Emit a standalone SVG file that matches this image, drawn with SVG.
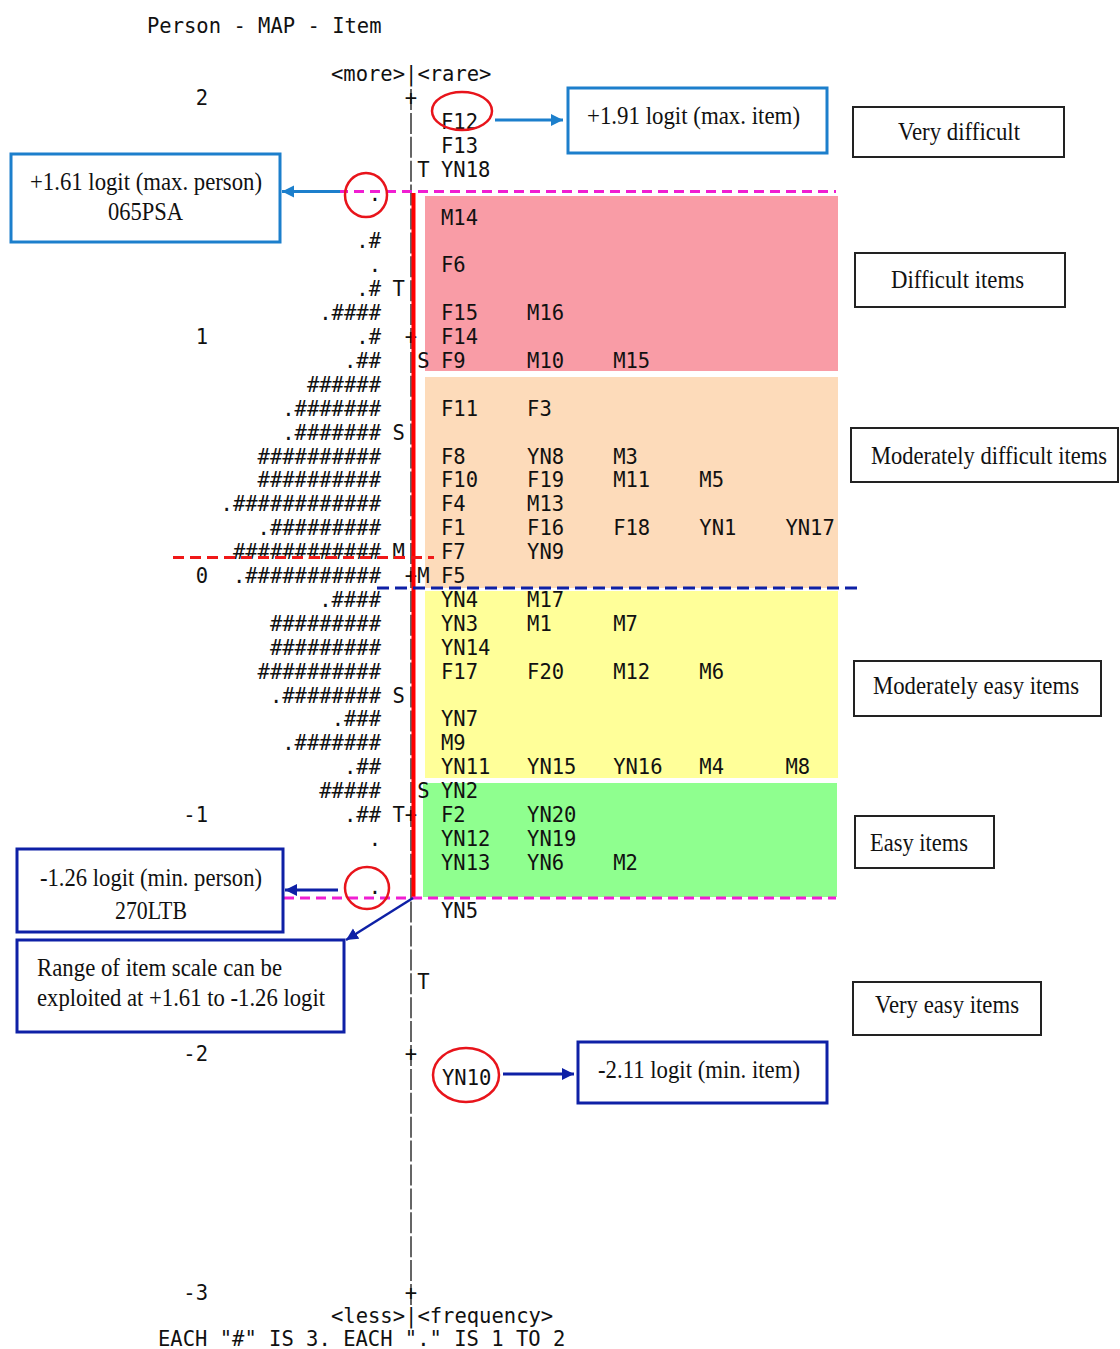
<svg xmlns="http://www.w3.org/2000/svg" width="1120" height="1349" viewBox="0 0 1120 1349">
<style>
.m{font-family:"DejaVu Sans Mono","Liberation Mono",monospace;font-size:20.5px;fill:#111}
.c{text-anchor:middle}
.e{text-anchor:end}
.s{font-family:"Liberation Serif","Times New Roman",serif;font-size:26px;fill:#111}
.bb{fill:#fff;stroke:#1C7FCC;stroke-width:3}
.db{fill:#fff;stroke:#0E20A6;stroke-width:3}
.kb{fill:#fff;stroke:#222;stroke-width:2}
.circ{fill:none;stroke:#E8141B;stroke-width:2.5}
</style>
<defs>
<marker id="ab" markerUnits="userSpaceOnUse" markerWidth="14" markerHeight="14" refX="12" refY="6" orient="auto"><path d="M0,0 L12,6 L0,12 z" fill="#1C7FCC"/></marker>
<marker id="ad" markerUnits="userSpaceOnUse" markerWidth="14" markerHeight="14" refX="12" refY="6" orient="auto"><path d="M0,0 L12,6 L0,12 z" fill="#0E20A6"/></marker>
</defs>
<rect width="1120" height="1349" fill="#fff"/>

<g id="bands">
<rect x="425" y="196" width="413" height="175" fill="#F99CA6"/>
<rect x="425" y="377" width="413" height="211" fill="#FDDBBA"/>
<rect x="425" y="591" width="413" height="187" fill="#FFFF99"/>
<rect x="423" y="783" width="414" height="114" fill="#8FFF8F"/>
</g>

<g id="axis">
<line x1="411" y1="89" x2="411" y2="1305" stroke="#333" stroke-width="1.5" stroke-dasharray="21 2.9"/>
</g>

<g id="headers" class="m">
<text x="147" y="33.3">Person - MAP - Item</text>
<text x="331" y="81.1">&lt;more&gt;|&lt;rare&gt;</text>
<text x="331" y="1322.5">&lt;less&gt;|&lt;frequency&gt;</text>
<text x="158" y="1346">EACH "#" IS 3. EACH "." IS 1 TO 2</text>
</g>

<g id="scale" class="m e">
<text x="208" y="105">2</text>
<text x="208" y="344">1</text>
<text x="208" y="583">0</text>
<text x="208" y="822">-1</text>
<text x="208" y="1061">-2</text>
<text x="208" y="1300">-3</text>
</g>

<g id="persons" class="m e">
<text x="381" y="200.6">.</text>
<text x="381" y="248.4">.#</text>
<text x="381" y="272.3">.</text>
<text x="381" y="296.2">.#</text>
<text x="381" y="320.1">.####</text>
<text x="381" y="344">.#</text>
<text x="381" y="367.9">.##</text>
<text x="381" y="391.8">######</text>
<text x="381" y="415.7">.#######</text>
<text x="381" y="439.6">.#######</text>
<text x="381" y="463.5">##########</text>
<text x="381" y="487.4">##########</text>
<text x="381" y="511.3">.############</text>
<text x="381" y="535.2">.#########</text>
<text x="381" y="559.1">############</text>
<text x="381" y="583">.###########</text>
<text x="381" y="606.9">.####</text>
<text x="381" y="630.8">#########</text>
<text x="381" y="654.7">#########</text>
<text x="381" y="678.6">##########</text>
<text x="381" y="702.5">.########</text>
<text x="381" y="726.4">.###</text>
<text x="381" y="750.3">.#######</text>
<text x="381" y="774.2">.##</text>
<text x="381" y="798.1">#####</text>
<text x="381" y="822">.##</text>
<text x="381" y="845.9">.</text>
<text x="381" y="893.7">.</text>
</g>

<g id="markers" class="m c">
<text x="411" y="105">+</text>
<text x="423.3" y="176.7">T</text>
<text x="398.7" y="296.2">T</text>
<text x="411" y="344">+</text>
<text x="423.3" y="367.9">S</text>
<text x="398.7" y="439.6">S</text>
<text x="398.7" y="559.1">M</text>
<text x="411" y="583">+</text>
<text x="423.3" y="583">M</text>
<text x="398.7" y="702.5">S</text>
<text x="423.3" y="798.1">S</text>
<text x="398.7" y="822">T</text>
<text x="411" y="822">+</text>
<text x="423.3" y="989.3">T</text>
<text x="411" y="1061">+</text>
<text x="411" y="1300">+</text>
</g>

<g id="items" class="m">
<text y="128.9"><tspan x="441">F12</tspan></text>
<text y="152.8"><tspan x="441">F13</tspan></text>
<text y="176.7"><tspan x="441">YN18</tspan></text>
<text y="224.5"><tspan x="441">M14</tspan></text>
<text y="272.3"><tspan x="441">F6</tspan></text>
<text y="320.1"><tspan x="441">F15</tspan><tspan x="527.1">M16</tspan></text>
<text y="344"><tspan x="441">F14</tspan></text>
<text y="367.9"><tspan x="441">F9</tspan><tspan x="527.1">M10</tspan><tspan x="613.2">M15</tspan></text>
<text y="415.7"><tspan x="441">F11</tspan><tspan x="527.1">F3</tspan></text>
<text y="463.5"><tspan x="441">F8</tspan><tspan x="527.1">YN8</tspan><tspan x="613.2">M3</tspan></text>
<text y="487.4"><tspan x="441">F10</tspan><tspan x="527.1">F19</tspan><tspan x="613.2">M11</tspan><tspan x="699.3">M5</tspan></text>
<text y="511.3"><tspan x="441">F4</tspan><tspan x="527.1">M13</tspan></text>
<text y="535.2"><tspan x="441">F1</tspan><tspan x="527.1">F16</tspan><tspan x="613.2">F18</tspan><tspan x="699.3">YN1</tspan><tspan x="785.4">YN17</tspan></text>
<text y="559.1"><tspan x="441">F7</tspan><tspan x="527.1">YN9</tspan></text>
<text y="583"><tspan x="441">F5</tspan></text>
<text y="606.9"><tspan x="441">YN4</tspan><tspan x="527.1">M17</tspan></text>
<text y="630.8"><tspan x="441">YN3</tspan><tspan x="527.1">M1</tspan><tspan x="613.2">M7</tspan></text>
<text y="654.7"><tspan x="441">YN14</tspan></text>
<text y="678.6"><tspan x="441">F17</tspan><tspan x="527.1">F20</tspan><tspan x="613.2">M12</tspan><tspan x="699.3">M6</tspan></text>
<text y="726.4"><tspan x="441">YN7</tspan></text>
<text y="750.3"><tspan x="441">M9</tspan></text>
<text y="774.2"><tspan x="441">YN11</tspan><tspan x="527.1">YN15</tspan><tspan x="613.2">YN16</tspan><tspan x="699.3">M4</tspan><tspan x="785.4">M8</tspan></text>
<text y="798.1"><tspan x="441">YN2</tspan></text>
<text y="822"><tspan x="441">F2</tspan><tspan x="527.1">YN20</tspan></text>
<text y="845.9"><tspan x="441">YN12</tspan><tspan x="527.1">YN19</tspan></text>
<text y="869.8"><tspan x="441">YN13</tspan><tspan x="527.1">YN6</tspan><tspan x="613.2">M2</tspan></text>
<text y="917.6"><tspan x="441">YN5</tspan></text>
<text y="1084.9"><tspan x="442">YN10</tspan></text>
</g>

<g id="guides" fill="none" stroke-width="3">
<line x1="413.5" y1="193" x2="413.5" y2="898" stroke="#FF0000" stroke-width="4"/>
<line x1="338" y1="191.5" x2="836" y2="191.5" stroke="#F01ED2" stroke-dasharray="10 6"/>
<line x1="284" y1="898" x2="836" y2="898" stroke="#F01ED2" stroke-dasharray="10 6"/>
<line x1="173" y1="557.5" x2="434" y2="557.5" stroke="#F01818" stroke-dasharray="11 6"/>
<line x1="377" y1="588" x2="861" y2="588" stroke="#0E20A6" stroke-dasharray="12 6"/>
</g>

<g id="highlights">
<ellipse class="circ" cx="462" cy="111" rx="30" ry="19"/>
<ellipse class="circ" cx="366" cy="195" rx="21" ry="22"/>
<ellipse class="circ" cx="367" cy="888" rx="22" ry="21"/>
<ellipse class="circ" cx="466" cy="1075" rx="33" ry="27"/>
</g>

<g id="connectors" fill="none" stroke-width="3">
<line x1="495" y1="120" x2="563" y2="120" stroke="#1C7FCC" marker-end="url(#ab)"/>
<line x1="340" y1="191.5" x2="282" y2="191.5" stroke="#1C7FCC" marker-end="url(#ab)"/>
<line x1="338" y1="890" x2="285" y2="890" stroke="#0E20A6" marker-end="url(#ad)"/>
<line x1="413" y1="898" x2="346" y2="940" stroke="#0E20A6" stroke-width="2.5" marker-end="url(#ad)"/>
<line x1="503" y1="1074" x2="574" y2="1074" stroke="#0E20A6" marker-end="url(#ad)"/>
</g>

<g id="max-item">
<rect class="bb" x="568" y="88" width="259" height="65"/>
<text class="s" x="587" y="124" textLength="213" lengthAdjust="spacingAndGlyphs">+1.91 logit (max. item)</text>
</g>
<g id="very-difficult">
<rect class="kb" x="853" y="107" width="211" height="50"/>
<text class="s" x="898" y="140" textLength="122" lengthAdjust="spacingAndGlyphs">Very difficult</text>
</g>
<g id="max-person">
<rect class="bb" x="11" y="154" width="269" height="88"/>
<text class="s" x="30" y="190" textLength="232" lengthAdjust="spacingAndGlyphs">+1.61 logit (max. person)</text>
<text class="s" x="108" y="220" textLength="75" lengthAdjust="spacingAndGlyphs">065PSA</text>
</g>
<g id="difficult">
<rect class="kb" x="855" y="253" width="210" height="54"/>
<text class="s" x="891" y="288" textLength="133" lengthAdjust="spacingAndGlyphs">Difficult items</text>
</g>
<g id="moderately-difficult">
<rect class="kb" x="851" y="428" width="267" height="54"/>
<text class="s" x="871" y="464" textLength="236" lengthAdjust="spacingAndGlyphs">Moderately difficult items</text>
</g>
<g id="moderately-easy">
<rect class="kb" x="854" y="661" width="247" height="55"/>
<text class="s" x="873" y="694" textLength="206" lengthAdjust="spacingAndGlyphs">Moderately easy items</text>
</g>
<g id="easy">
<rect class="kb" x="855" y="816" width="139" height="52"/>
<text class="s" x="870" y="851" textLength="98" lengthAdjust="spacingAndGlyphs">Easy items</text>
</g>
<g id="very-easy">
<rect class="kb" x="853" y="982" width="188" height="53"/>
<text class="s" x="875" y="1013" textLength="144" lengthAdjust="spacingAndGlyphs">Very easy items</text>
</g>
<g id="min-item">
<rect class="db" x="578" y="1042" width="249" height="61"/>
<text class="s" x="598" y="1078" textLength="202" lengthAdjust="spacingAndGlyphs">-2.11 logit (min. item)</text>
</g>
<g id="min-person">
<rect class="db" x="17" y="849" width="266" height="83"/>
<text class="s" x="40" y="886" textLength="222" lengthAdjust="spacingAndGlyphs">-1.26 logit (min. person)</text>
<text class="s" x="115" y="919" textLength="72" lengthAdjust="spacingAndGlyphs">270LTB</text>
</g>
<g id="range-note">
<rect class="db" x="17" y="940" width="327" height="92"/>
<text class="s" x="37" y="976" textLength="245" lengthAdjust="spacingAndGlyphs">Range of item scale can be</text>
<text class="s" x="37" y="1006" textLength="288" lengthAdjust="spacingAndGlyphs">exploited at +1.61 to -1.26 logit</text>
</g>
</svg>
